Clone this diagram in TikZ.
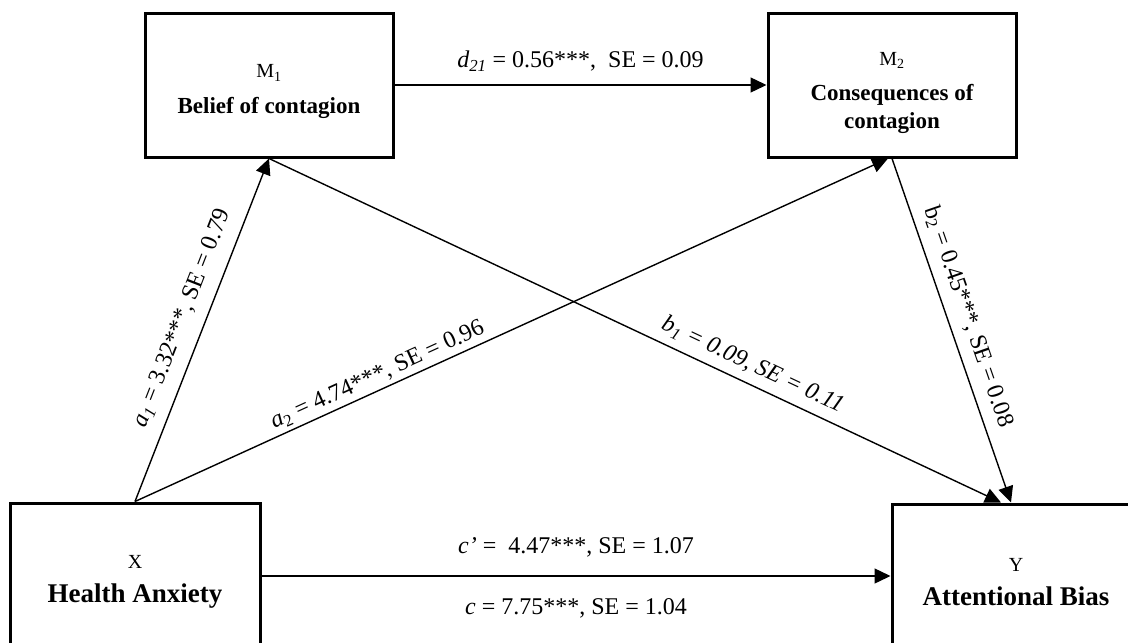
\documentclass[tikz,border=0pt]{standalone}
\usepackage{fontspec}
\setmainfont{Liberation Serif}
\usetikzlibrary{arrows.meta}

\begin{document}
\begin{tikzpicture}[x=1pt, y=-1pt,
    box/.style={draw, line width=3pt, minimum width=248pt, minimum height=144pt, align=center, inner sep=0pt, font=\fontsize{23}{28}\selectfont},
    conn/.style={line width=1.4pt, -{Triangle[length=16pt, width=15pt]}},
    lbl/.style={font=\fontsize{24}{28}\selectfont, inner sep=2pt}]
    \useasboundingbox (0, 0) rectangle (1128, 643);
    \clip (0, 0) rectangle (1128, 643);
    \node[box, minimum width=250pt, minimum height=146pt, font=\fontsize{27}{30}\selectfont] (0) at (135, 576) {{\fontsize{20}{24}\selectfont\rule{0pt}{25pt}X}\\[4pt]\bfseries Health Anxiety};
    \node[box] (1) at (269, 85) {{\fontsize{20}{24}\selectfont\rule{0pt}{27pt}M\textsubscript{1}}\\[8pt]\bfseries Belief of contagion};
    \node[box] (2) at (892, 85) {{\fontsize{20}{24}\selectfont\rule{0pt}{29pt}M\textsubscript{2}}\\[7pt]\bfseries Consequences of\\\bfseries contagion};
    \node[box, font=\fontsize{27}{30}\selectfont] (3) at (1016, 576) {{\fontsize{20}{24}\selectfont\rule{0pt}{25pt}Y}\\[4pt]\bfseries Attentional Bias};
    \draw[conn] (1) -- node[lbl, above=11pt] {\textit{d}\textsubscript{\textit{21}} = 0.56***,~~SE = 0.09} (2);
    \draw[conn] (0) -- node[lbl, above=16pt] {\textit{c’} =~~4.47***, SE = 1.07} node[lbl, below=20pt] {\textit{c} = 7.75***, SE = 1.04} (3);
    \draw[conn] (0.north) -- node[lbl, sloped, pos=0.51, above=10pt] {\textit{a}\textsubscript{\textit{1}} = 3.32***, SE = 0.79} (1.south);
    \draw[conn] (0.north) -- node[lbl, sloped, pos=0.33, above=2pt] {\textit{a}\textsubscript{2} = 4.74***, SE = 0.96} ([xshift=-4pt]2.south);
    \draw[conn] (1.south) -- node[lbl, sloped, pos=0.65, above=6pt] {\textit{b\textsubscript{1} = 0.09, SE = 0.11}} ([xshift=-15pt]3.north);
    \draw[conn] (2.south) -- node[lbl, sloped, pos=0.48, above=8pt] {b\textsubscript{2} = 0.45***, SE = 0.08} ([xshift=-5pt]3.north);
\end{tikzpicture}
\end{document}
